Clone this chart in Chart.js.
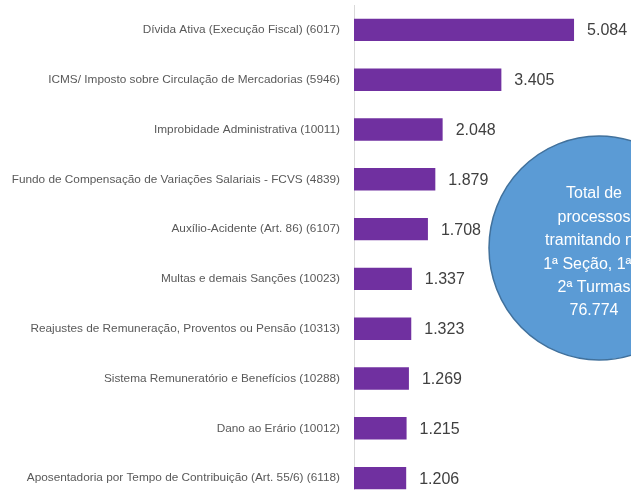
<!DOCTYPE html>
<html>
<head>
<meta charset="utf-8">
<script src="https://cdn.jsdelivr.net/npm/chart.js@4/dist/chart.umd.min.js"></script>
<style>
  html, body { margin: 0; padding: 0; background: #fff; overflow: hidden; }
  #wrap { position: relative; width: 631px; height: 506px; }
</style>
</head>
<body>
<div id="wrap"><canvas id="mainChart"></canvas></div>
<script>
const assuntos = [
    "Dívida Ativa (Execução Fiscal) (6017)",
    "ICMS/ Imposto sobre Circulação de Mercadorias (5946)",
    "Improbidade Administrativa (10011)",
    "Fundo de Compensação de Variações Salariais - FCVS (4839)",
    "Auxílio-Acidente (Art. 86) (6107)",
    "Multas e demais Sanções (10023)",
    "Reajustes de Remuneração, Proventos ou Pensão (10313)",
    "Sistema Remuneratório e Benefícios (10288)",
    "Dano ao Erário (10012)",
    "Aposentadoria por Tempo de Contribuição (Art. 55/6) (6118)"
];
const processos = [5084, 3405, 2048, 1879, 1708, 1337, 1323, 1269, 1215, 1206];
const totalTexto = ["Total de", "processos", "tramitando na", "1ª Seção, 1ª e", "2ª Turmas", "76.774"];

function fmt(n) {
    // 5084 -> "5.084"
    return n.toString().replace(/\B(?=(\d{3})+(?!\d))/g, ".");
}

// rótulos de valor à direita das barras
const valorLabels = {
    id: "valorLabels",
    afterDatasetsDraw(chart) {
        const ctx = chart.ctx;
        const meta = chart.getDatasetMeta(0);
        ctx.save();
        ctx.font = "16px 'Liberation Sans', Arial, sans-serif";
        ctx.fillStyle = "#404040";
        ctx.textBaseline = "middle";
        meta.data.forEach((bar, i) => {
            ctx.fillText(fmt(processos[i]), bar.x + 13, bar.y + 1);
        });
        ctx.restore();
    }
};

// balão com o total
const totalBalao = {
    id: "totalBalao",
    afterDraw(chart) {
        const ctx = chart.ctx;
        ctx.save();
        ctx.beginPath();
        ctx.ellipse(599, 248, 110, 112, 0, 0, Math.PI * 2);
        ctx.fillStyle = "#5B9BD5";
        ctx.fill();
        ctx.lineWidth = 1.5;
        ctx.strokeStyle = "#41719C";
        ctx.stroke();
        ctx.font = "16px 'Liberation Sans', Arial, sans-serif";
        ctx.fillStyle = "#ffffff";
        ctx.textAlign = "center";
        ctx.textBaseline = "middle";
        totalTexto.forEach((t, i) => {
            ctx.fillText(t, 594, 194 + i * 23.4);
        });
        ctx.restore();
    }
};

new Chart(document.getElementById("mainChart"), {
    type: "bar",
    data: {
        labels: assuntos,
        datasets: [{
            data: processos,
            backgroundColor: "#7030A0",
            borderWidth: 0,
            categoryPercentage: 1.0,
            barPercentage: 0.45
        }]
    },
    options: {
        indexAxis: "y",
        responsive: true,
        maintainAspectRatio: false,
        animation: false,
        layout: { padding: { top: 5, bottom: 3, left: 0, right: 0 } },
        scales: {
            x: {
                display: false,
                min: 0,
                max: 6400
            },
            y: {
                afterFit: scale => {
                    scale.width = 354;
                    scale.paddingTop = 0;
                    scale.paddingBottom = 0;
                },
                grid: { display: false, drawTicks: false },
                border: { display: true, color: "#D9D9D9", width: 1 },
                ticks: {
                    padding: 14,
                    color: "#595959",
                    font: { family: "'Liberation Sans', Arial, sans-serif", size: 11.8 }
                }
            }
        },
        plugins: {
            legend: { display: false },
            tooltip: { enabled: false }
        }
    },
    plugins: [valorLabels, totalBalao]
});
</script>
</body>
</html>
